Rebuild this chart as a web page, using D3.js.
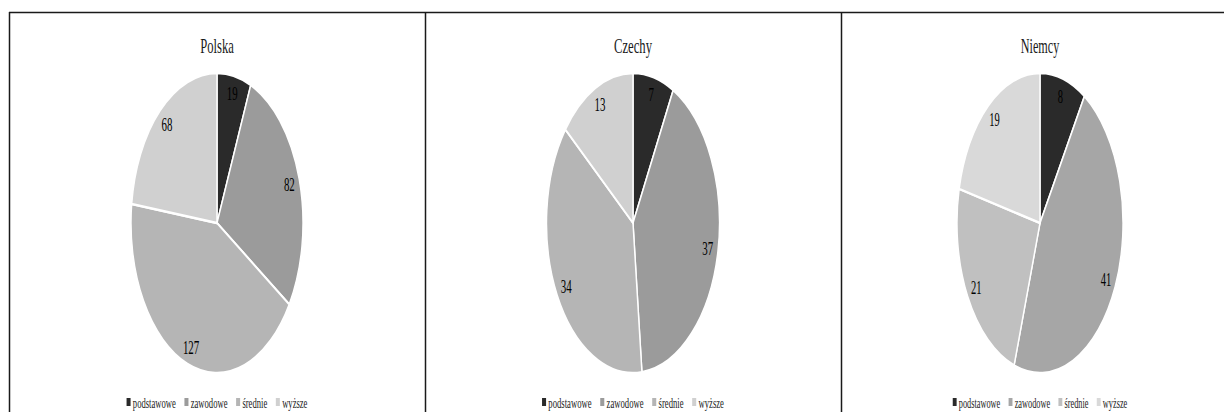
<!DOCTYPE html>
<html lang="pl">
<head>
<meta charset="UTF-8">
<title>Wykształcenie</title>
<script src="https://d3js.org/d3.v7.min.js"></script>
<style>
  body { margin: 0; background: #fff; }
  text { font-family: "Liberation Serif", "Times New Roman", serif; fill: #1a1a1a; }
  .lbl { fill: #000; }
</style>
</head>
<body>
<svg width="1224" height="412"></svg>
<script>
// data
const categories = ["podstawowe", "zawodowe", "średnie", "wyższe"];
const countries = ["Polska", "Czechy", "Niemcy"];
const polska = [19, 82, 127, 68];
const czechy = [7, 37, 34, 13];
const niemcy = [8, 41, 21, 19];
const seriesValues = [polska, czechy, niemcy];

// styles
const palettes = [
  ["#2a2a2a", "#9b9b9b", "#b5b5b5", "#d0d0d0"],
  ["#2a2a2a", "#9b9b9b", "#b5b5b5", "#d0d0d0"],
  ["#2a2a2a", "#a6a6a6", "#c0c0c0", "#d9d9d9"]
];
const panels = [
  { cx: 217, sx: 86 / 150 },
  { cx: 633, sx: 86.5 / 150 },
  { cx: 1040, sx: 83 / 150 }
];
const R = 150, cy = 223;

const svg = d3.select("svg");

// panel borders
svg.append("line").attr("x1", 9).attr("x2", 1224).attr("y1", 12.5).attr("y2", 12.5)
  .attr("stroke", "#1a1a1a").attr("stroke-width", 1.5);
[9, 425, 841].forEach(x => {
  svg.append("line").attr("x1", x + 0.5).attr("x2", x + 0.5).attr("y1", 12).attr("y2", 412)
    .attr("stroke", "#1a1a1a").attr("stroke-width", 1.5);
});

const pie = d3.pie().sort(null).value(d => d);
const arc = d3.arc().innerRadius(0).outerRadius(R);
const labelArc = d3.arc().innerRadius(R * 0.88).outerRadius(R * 0.88);

seriesValues.forEach((vals, i) => {
  const p = panels[i];
  const color = d3.scaleOrdinal().domain(categories).range(palettes[i]);
  const g = svg.append("g").attr("transform", `translate(${p.cx},0) scale(${p.sx},1)`);

  g.append("text")
    .attr("x", 0).attr("y", 53)
    .attr("text-anchor", "middle")
    .attr("font-size", 22)
    .text(countries[i]);

  const arcs = pie(vals);
  const pg = g.append("g").attr("transform", `translate(0,${cy})`);
  pg.selectAll("path").data(arcs).join("path")
    .attr("d", arc)
    .attr("fill", (d, j) => color(categories[j]))
    .attr("stroke", "#fff")
    .attr("stroke-width", 2.5);

  pg.selectAll("text").data(arcs).join("text")
    .attr("class", "lbl")
    .attr("transform", d => `translate(${labelArc.centroid(d)})`)
    .attr("text-anchor", "middle")
    .attr("dy", "0.35em")
    .attr("font-size", 19)
    .text(d => d.data);

  // legend
  const lg = g.append("g");
  const items = lg.selectAll("g").data(categories).join("g");
  items.append("rect")
    .attr("x", 0).attr("y", -5).attr("width", 7).attr("height", 8)
    .attr("fill", (d) => color(d));
  items.append("text")
    .attr("x", 11).attr("dy", "0.32em")
    .attr("font-size", 15)
    .text(d => d);
  let x = 0;
  const gap = 15;
  items.each(function () {
    const w = 11 + d3.select(this).select("text").node().getComputedTextLength();
    d3.select(this).attr("transform", `translate(${x},0)`);
    x += w + gap;
  });
  const total = x - gap;
  lg.attr("transform", `translate(${-total / 2},403)`);
});
</script>
</body>
</html>
